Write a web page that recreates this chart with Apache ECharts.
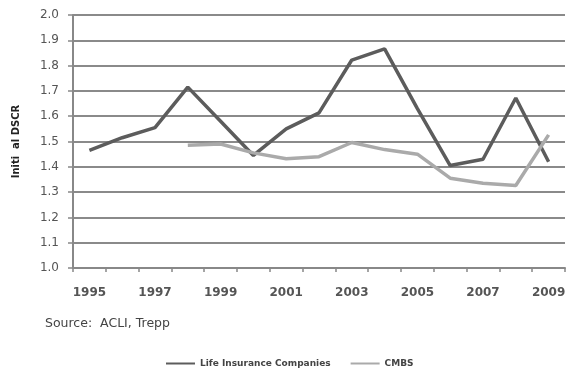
<!DOCTYPE html>
<html><head><meta charset="utf-8">
<script src="https://cdn.jsdelivr.net/npm/echarts@6/dist/echarts.min.js"></script>
<style>html,body{margin:0;padding:0;background:#fff}#c{width:569px;height:371px}</style>
</head><body><div id="c"></div>
<script>
var years = ['1995','1996','1997','1998','1999','2000','2001','2002','2003','2004','2005','2006','2007','2008','2009'];
var lifeInsurance = [1.465, 1.515, 1.555, 1.715, 1.58, 1.445, 1.55, 1.613, 1.822, 1.866, 1.63, 1.405, 1.43, 1.672, 1.42];
var cmbs = [null, null, null, 1.485, 1.49, 1.455, 1.432, 1.44, 1.496, 1.468, 1.45, 1.355, 1.335, 1.326, 1.526];
var yTicks = [1.0, 2.0, 0.1];
var chart = echarts.init(document.getElementById('c'), null, {renderer:'canvas'});
chart.setOption({
  animation:false,
  backgroundColor:'#fff',
  grid:{left:73, right:4, top:15, bottom:103, containLabel:false},
  xAxis:{type:'category', data:years, boundaryGap:true,
    axisLine:{lineStyle:{color:'#888', width:2}},
    axisTick:{show:true, length:4, lineStyle:{color:'#888', width:1.5}, interval:0},
    axisLabel:{interval:1, color:'#555', fontFamily:'DejaVu Sans', fontWeight:'bold', fontSize:12, margin:19}},
  yAxis:{type:'value', min:yTicks[0], max:yTicks[1], interval:yTicks[2],
    axisLine:{show:true, lineStyle:{color:'#888', width:2}},
    axisTick:{show:true, length:5, lineStyle:{color:'#888', width:1.5}},
    splitLine:{lineStyle:{color:'#8a8a8a', width:2}},
    axisLabel:{color:'#555', fontFamily:'DejaVu Sans', fontSize:12, margin:14, formatter:function(v){return v.toFixed(1);}},
    name:'Initi  al DSCR', nameLocation:'middle', nameGap:52, nameRotate:90,
    nameTextStyle:{color:'#222', fontFamily:'DejaVu Sans', fontWeight:'bold', fontSize:10}},
  legend:{top:358, left:161, itemWidth:29, itemHeight:2, icon:'rect', itemGap:20, padding:[1,5],
    textStyle:{fontFamily:'DejaVu Sans', fontSize:9, fontWeight:'bold', color:'#444'},
    data:['Life Insurance Companies','CMBS']},
  graphic:[{type:'text', left:45, top:317, style:{text:'Source:  ACLI, Trepp', fill:'#444', font:'12.5px DejaVu Sans'}}],
  series:[
    {name:'Life Insurance Companies', type:'line', data:lifeInsurance, showSymbol:false, symbol:'none',
      lineStyle:{color:'#5c5c5c', width:3.5}, itemStyle:{color:'#5c5c5c'}},
    {name:'CMBS', type:'line', data:cmbs, showSymbol:false, symbol:'none',
      lineStyle:{color:'#aaaaaa', width:3.5}, itemStyle:{color:'#aaaaaa'}}
  ]
});
</script></body></html>
